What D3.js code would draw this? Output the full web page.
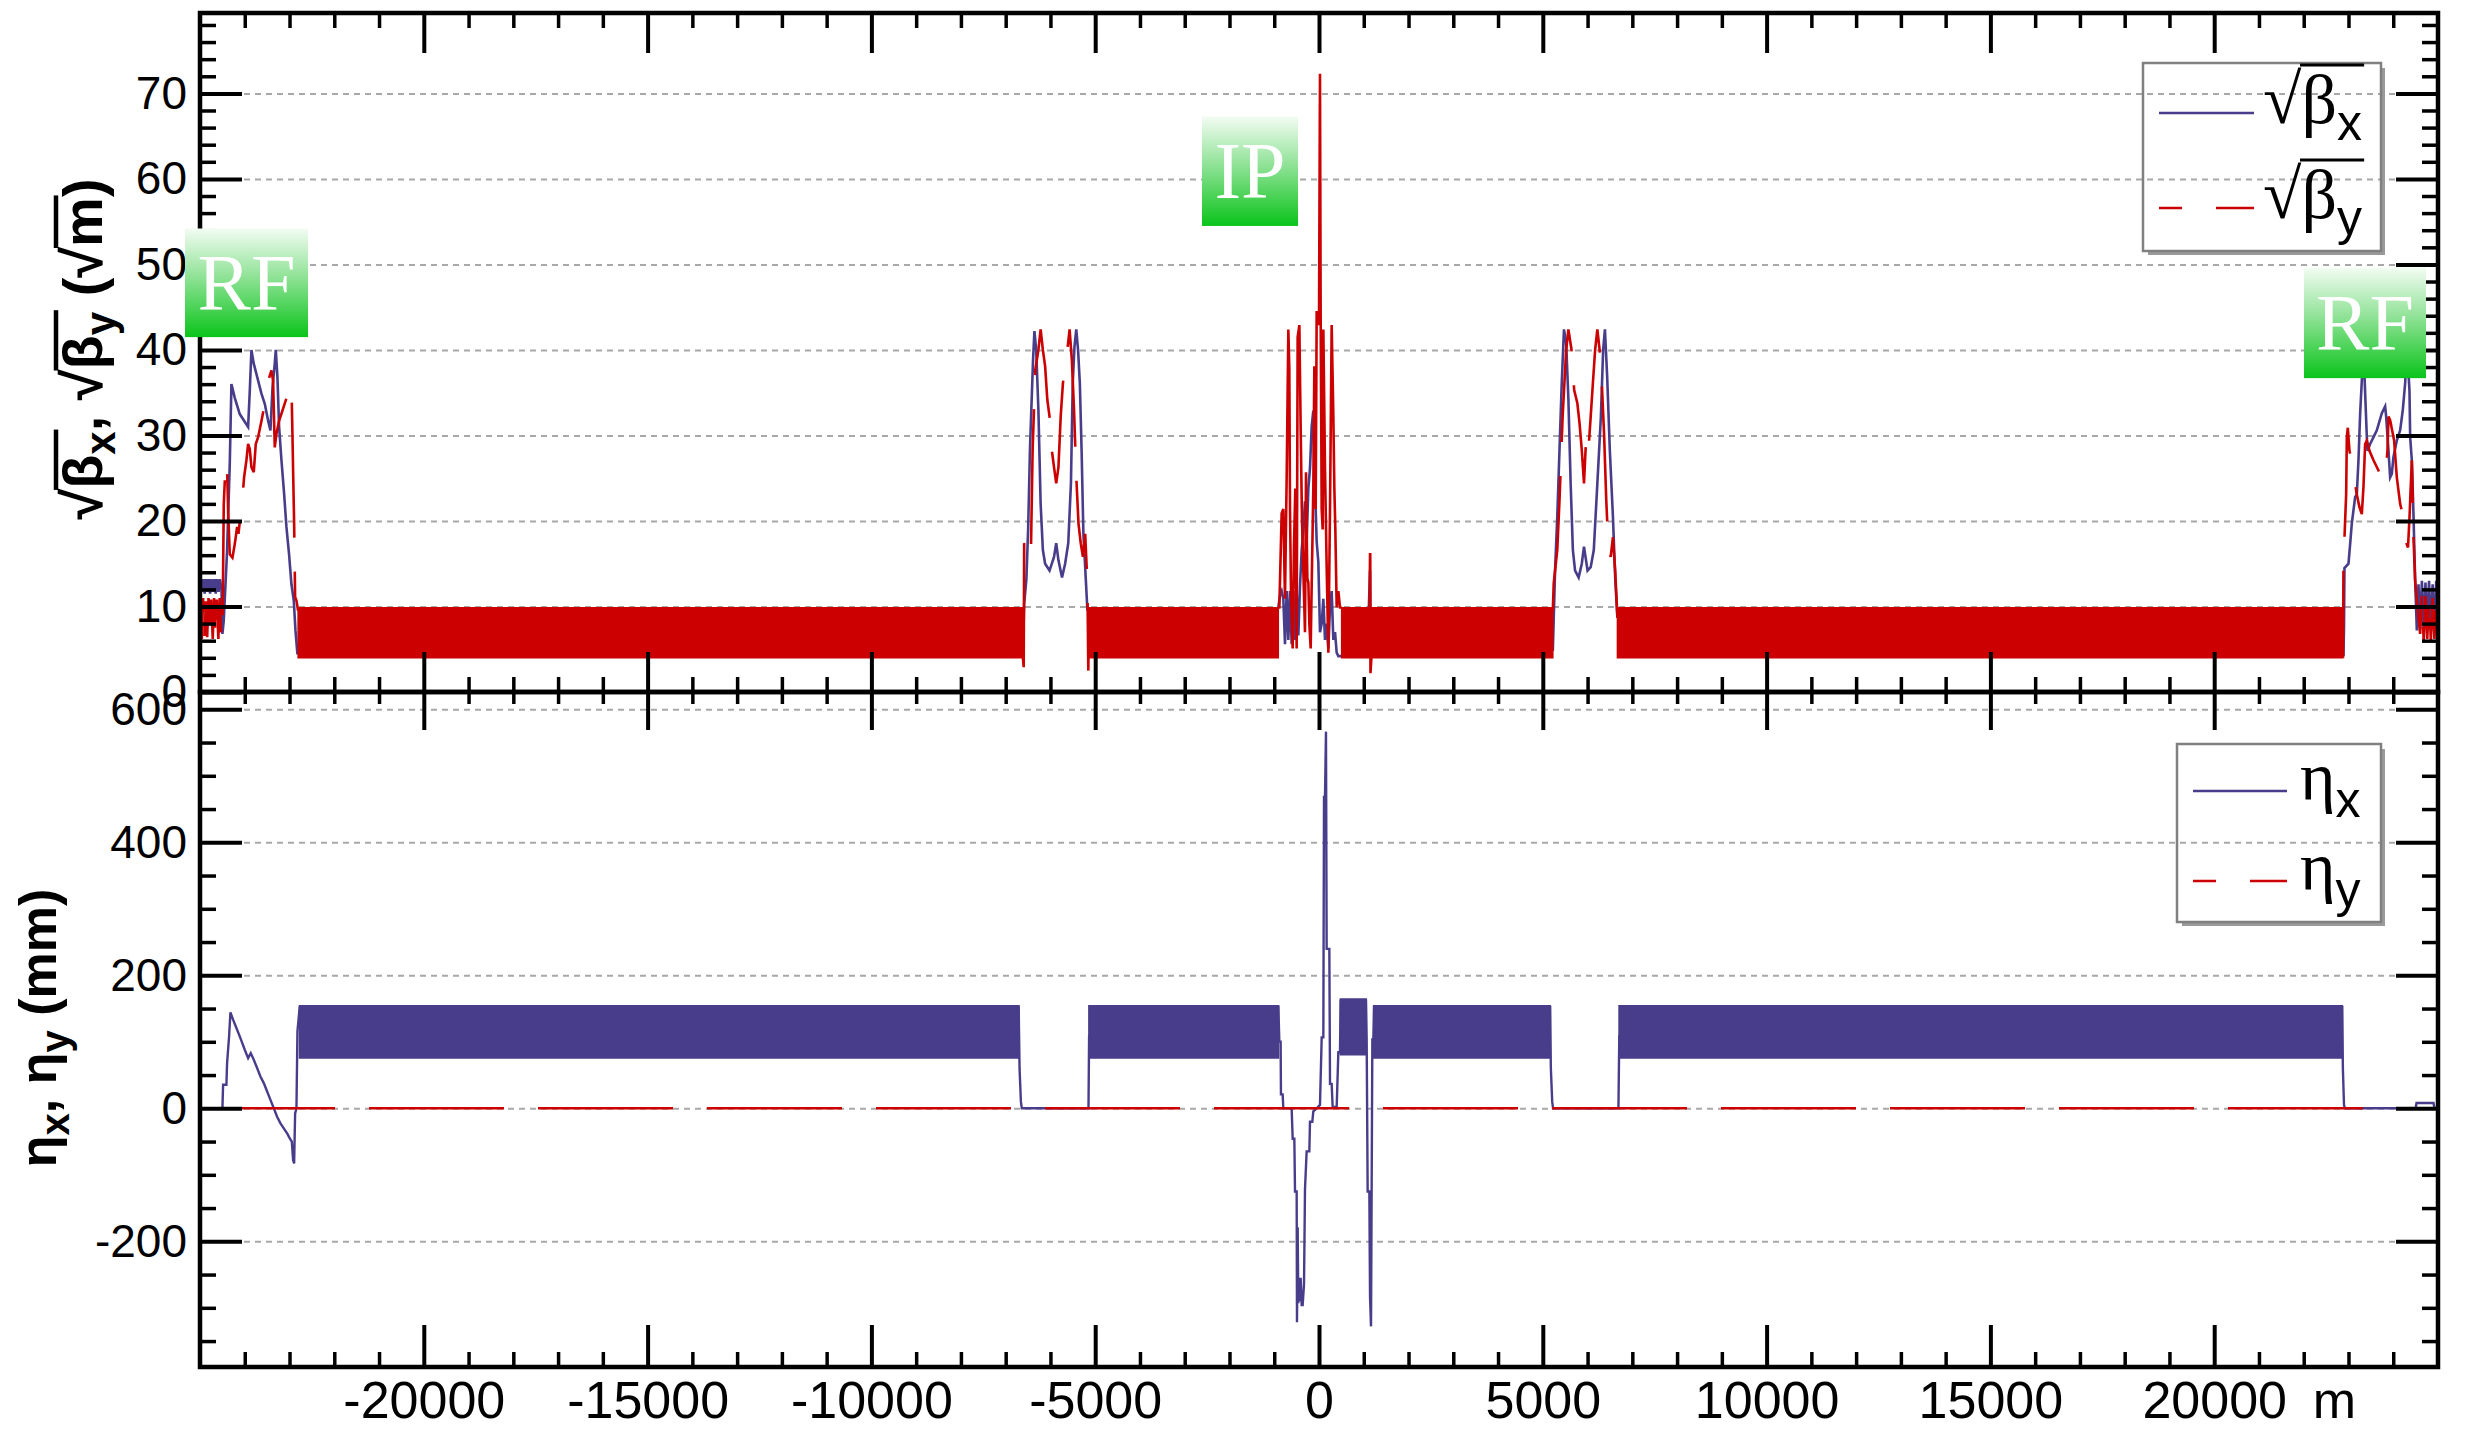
<!DOCTYPE html>
<html>
<head>
<meta charset="utf-8">
<script src="https://cdn.jsdelivr.net/npm/d3@7"></script>
<style>
  body { margin: 0; background: #fff; }
</style>
</head>
<body>
<svg id="chart" width="2465" height="1429"></svg>
<script>
// ---- data (s in metres, sqrt(beta) in sqrt(m), eta in mm) ----
// FODO arcs: dense oscillation, kept as envelope
var betaArcS0 = [-22808, -5154, 506, 6667];
var betaArcS1 = [-6617, -909, 5224, 22873];
var betaArcLo = [4.0, 4.0, 4.0, 4.0];
var betaArcHi = [9.85, 9.85, 9.85, 9.85];

var etaArcS0 = [-22771, -5136, 484, 1229, 6709];
var etaArcS1 = [-6710, -909, 1050, 5163, 22859];
var etaArcLo = [76, 76, 81, 76, 76];
var etaArcHi = [154, 154, 164, 154, 154];

// insertions: sqrt(beta_x)
var bxRfW = [[-25004,11.5],[-24980,13.2],[-24955,11.7],[-24925,13.2],[-24895,11.5],[-24865,13.2],[-24835,11.7],[-24805,13.2],
  [-24775,11.5],[-24745,13.2],[-24710,11.7],[-24680,13.2],[-24650,11.5],[-24620,13.2],[-24585,11.7],[-24555,13.2],[-24520,12.0],
  [-24499,6.8],[-24470,8.3],[-24395,16.5],[-24335,26.7],[-24298,36.0],[-24223,34.4],[-24112,32.5],[-23925,31.0],[-23888,35.2],
  [-23851,40.0],[-23799,38.4],[-23627,34.9],[-23553,33.7],[-23477,31.7],[-23426,30.6],[-23380,35.6],[-23330,38.4],[-23307,40.0],
  [-23270,36.8],[-23233,31.0],[-23180,27.1],[-23121,23.2],[-23069,19.3],[-23010,16.1],[-22957,12.6],[-22905,10.7],[-22867,7.2],[-22823,4.4]];
var bxStrW = [[-6617,4.1],[-6587,10.3],[-6537,13.2],[-6497,19.3],[-6458,28.3],[-6388,38.9],[-6358,42.2],[-6318,40.0],[-6269,33.0],
  [-6219,22.0],[-6169,16.6],[-6119,15.0],[-6020,14.2],[-5920,15.8],[-5871,17.4],[-5821,15.4],[-5741,13.4],[-5672,15.0],[-5602,17.4],
  [-5542,24.4],[-5502,36.1],[-5463,40.4],[-5423,42.4],[-5383,40.0],[-5343,36.1],[-5304,28.3],[-5264,18.5],[-5224,14.6],[-5174,9.5]];
var bxIR = [[-909,9.9],[-871,11.3],[-834,11.8],[-797,10.9],[-760,5.6],[-722,11.8],[-685,6.1],[-648,11.8],[-611,5.6],[-573,11.8],
  [-536,6.1],[-499,11.8],[-462,6.6],[-425,12.3],[-387,16.6],[-350,19.0],[-313,22.3],[-276,17.6],[-238,23.8],[-201,26.2],[-164,31.0],
  [-127,32.9],[-104,26.2],[-74,21.4],[-52,17.6],[-15,15.2],[22,7.0],[60,8.0],[97,10.9],[134,6.1],[171,8.0],[209,5.1],[246,9.9],
  [283,11.8],[320,6.1],[358,7.0],[395,4.6],[432,4.2],[506,4.2]];
var bxSpike = [[1102,8.0],[1140,14.2],[1150,4.2],[1177,4.2]];
var bxStrE = [[5224,4.8],[5274,14.2],[5323,20.5],[5373,28.3],[5423,36.1],[5473,42.4],[5522,40.8],[5572,34.2],[5622,24.4],[5672,16.6],
  [5721,14.2],[5801,13.4],[5871,15.0],[5920,17.0],[6000,14.2],[6070,14.6],[6139,16.6],[6219,24.4],[6298,32.2],[6348,40.0],[6388,42.4],
  [6438,36.9],[6497,28.3],[6567,20.5],[6617,13.4],[6667,8.7]];
var bxRfE = [[22888,4.2],[22900,7.6],[22910,14.5],[23000,15.0],[23037,17.3],[23074,19.7],[23149,22.8],[23186,23.1],[23223,27.1],
  [23261,32.6],[23298,36.4],[23335,40.5],[23372,35.0],[23410,29.8],[23425,28.2],[23484,29.0],[23559,29.8],[23633,30.6],[23745,32.6],
  [23819,33.4],[23842,32.2],[23894,28.2],[23931,25.1],[23968,25.5],[24005,27.5],[24080,29.4],[24154,30.6],[24214,33.0],[24266,36.1],
  [24303,40.2],[24333,38.0],[24363,35.2],[24378,29.8],[24415,27.1],[24452,20.8],[24490,13.0],[24527,7.2],[24564,12.6],[24600,7.4],
  [24640,13.0],[24680,7.2],[24720,12.8],[24760,7.4],[24800,13.0],[24840,7.2],[24880,12.6],[24920,7.4],[24960,13.0],[25000,7.4]];

// insertions: sqrt(beta_y)
var byRfW = [[-25004,6.0],[-24985,10.8],[-24960,6.2],[-24930,11.0],[-24900,6.0],[-24870,10.6],[-24840,6.4],[-24810,11.0],[-24780,6.0],
  [-24750,10.8],[-24715,6.2],[-24685,11.0],[-24655,6.0],[-24625,10.8],[-24590,6.2],[-24560,11.0],[-24525,6.4],[-24499,6.0],
  [-24469,22.0],[-24425,27.1],[-24395,26.3],[-24372,21.2],[-24335,16.1],[-24275,15.7],[-24223,17.3],[-24171,19.3],[-24141,18.5],
  [-24052,22.7],[-24015,25.1],[-23963,27.1],[-23925,29.0],[-23888,28.4],[-23851,26.3],[-23799,25.7],[-23754,29.0],[-23702,29.8],
  [-23627,31.7],[-23553,33.7],[-23477,36.4],[-23404,37.6],[-23367,36.4],[-23330,28.6],[-23292,30.2],[-23233,31.7],[-23158,32.9],
  [-23084,34.1],[-23010,35.2],[-22957,36.0],[-22935,30.2],[-22920,25.9],[-22897,19.7],[-22875,11.1],[-22845,10.7],[-22808,9.5]];
var byStrW = [[-6617,4.1],[-6597,2.9],[-6587,17.4],[-6537,16.5],[-6497,15.4],[-6438,15.8],[-6398,28.3],[-6338,37.7],[-6269,40.0],
  [-6219,42.4],[-6169,40.0],[-6119,38.1],[-6070,34.2],[-6020,32.2],[-5970,28.3],[-5920,26.3],[-5871,24.4],[-5821,26.3],[-5771,32.2],
  [-5721,36.1],[-5672,38.5],[-5622,40.0],[-5572,42.4],[-5522,38.9],[-5473,33.0],[-5423,25.2],[-5373,19.7],[-5323,17.4],[-5274,15.8],
  [-5224,18.5],[-5174,12.7],[-5154,2.5],[-5140,9.5]];
var byIR = [[-909,9.9],[-886,9.9],[-834,20.9],[-797,21.4],[-760,10.9],[-722,25.2],[-685,42.4],[-663,37.7],[-648,21.4],[-626,11.8],
  [-588,5.1],[-559,17.1],[-529,23.8],[-499,5.1],[-477,41.5],[-439,42.9],[-410,31.0],[-380,20.0],[-350,14.2],[-313,7.0],[-290,25.7],
  [-261,13.3],[-238,12.8],[-216,8.0],[-186,5.1],[-164,12.3],[-127,23.8],[-104,38.1],[-74,21.4],[-52,44.4],[-15,44.4],[0,42.9],
  [22,72.3],[37,44.4],[60,21.4],[82,19.0],[97,42.4],[134,26.2],[171,14.7],[209,4.6],[246,21.4],[283,42.9],[320,32.4],[343,23.8],
  [365,19.0],[395,9.9],[432,11.8],[469,9.9],[506,9.9]];
var bySpike = [[1102,9.9],[1130,9.9],[1140,16.1],[1145,16.1],[1150,2.2],[1177,4.6]];
var byStrE = [[5224,9.5],[5244,12.7],[5323,16.6],[5373,22.4],[5443,32.2],[5522,40.0],[5572,42.4],[5642,40.0],[5701,35.3],[5771,33.8],
  [5821,31.4],[5871,28.3],[5920,24.4],[5970,29.9],[6020,28.3],[6070,32.2],[6119,36.1],[6169,40.0],[6219,42.4],[6269,40.0],[6318,36.1],
  [6368,30.3],[6418,22.4],[6468,16.6],[6517,15.8],[6567,18.1],[6617,14.2],[6667,8.7]];
var byRfE = [[22873,9.6],[22880,4.0],[22888,15.0],[22948,23.1],[22963,29.8],[22985,30.9],[23022,28.2],[23074,27.1],[23126,25.1],
  [23186,23.1],[23246,21.6],[23298,20.8],[23335,24.0],[23372,29.0],[23410,29.4],[23469,28.2],[23559,27.1],[23670,25.9],[23767,24.7],
  [23819,25.1],[23871,28.2],[23894,32.2],[23931,31.8],[24020,29.4],[24080,25.1],[24154,22.0],[24192,21.2],[24250,19.0],[24303,17.3],
  [24330,16.9],[24363,20.4],[24415,27.1],[24430,24.0],[24452,18.1],[24490,13.0],[24527,10.6],[24601,6.8],[24640,11.4],[24680,6.0],
  [24720,11.2],[24760,6.2],[24800,11.4],[24840,6.0],[24880,11.0],[24920,6.2],[24960,11.4],[25000,6.0]];

// insertions: eta_x
var etaRfW = [[-25000,0],[-24499,0],[-24484,35.4],[-24410,35.4],[-24395,68.0],[-24350,108.2],[-24320,144.3],[-24261,133.3],
  [-24171,118.2],[-24097,105.6],[-24000,88.0],[-23925,75.5],[-23866,83.0],[-23799,73.0],[-23724,60.5],[-23650,47.9],[-23575,37.9],
  [-23500,25.3],[-23426,12.7],[-23351,0],[-23277,-12.6],[-23202,-22.6],[-23128,-30.2],[-23053,-37.7],[-22994,-45.2],[-22949,-50.2],
  [-22920,-77.9],[-22897,-82.9],[-22875,-7.6],[-22845,0],[-22823,115.8],[-22771,153.4]];
var etaStrW = [[-6710,154],[-6690,60],[-6660,10],[-6640,0],[-5150,0],[-5136,110]];
var etaIR = [[-909,154],[-886,100.2],[-857,100.2],[-850,20.9],[-812,20.9],[-797,0],[-611,0],[-588,-45.7],[-551,-45.7],[-536,-125],
  [-499,-125],[-492,-321.6],[-477,-178.9],[-462,-293],[-447,-255],[-425,-290],[-410,-255],[-387,-296],[-365,-296],[-335,-264.5],
  [-313,-121.8],[-276,-64.7],[-216,-64.7],[-201,-20.3],[-149,-20.3],[-127,-4.4],[-52,0],[22,5.1],[60,106.6],[97,106.6],[112,468.1],
  [134,468.1],[156,566.4],[171,239.8],[231,239.8],[246,36.8],[283,36.8],[305,1.9],[395,1.9],[432,84.4],[469,84.4],[484,163.7]];
var etaIR2 = [[1050,163.7],[1065,103.4],[1087,-125],[1125,-125],[1140,-283.5],[1162,-327.9],[1192,103.4],[1214,103.4],[1229,154.1]];
var etaStrE = [[5163,154],[5180,60],[5210,10],[5230,0],[6690,0],[6709,110]];
var etaRfE = [[22859,154],[22875,60],[22900,5],[22920,0],[24500,0],[24520,8],[24900,8],[24920,0],[25000,0]];
// eta_y is zero everywhere
var etaY = [[-25000,0],[25000,0]];

// tick values
var sTicks = [-20000, -15000, -10000, -5000, 0, 5000, 10000, 15000, 20000];
var sMinor = d3.range(-24000, 24001, 1000).filter(function(v) { return v % 5000 !== 0; });
var bTicks = [0, 10, 20, 30, 40, 50, 60, 70];
var bMinor = d3.range(2, 79, 2).filter(function(v) { return v % 10 !== 0; });
var eTicks = [-200, 0, 200, 400, 600];
var eMinor = d3.range(-350, 601, 50).filter(function(v) { return v % 200 !== 0; });

// labels (s range and value range of each box)
var boxes = [
  {t: 'RF', s: [-25335, -22587], v: [54.2, 41.5]},
  {t: 'IP', s: [-2614, -469], v: [67.3, 54.5]},
  {t: 'RF', s: [22006, 24732], v: [49.6, 36.7]}
];

var BLUE = '#483d8b', RED = '#cc0000';
var SANS = 'Liberation Sans, Arial, sans-serif', SERIF = 'Liberation Serif, Times New Roman, serif';

var L = 200, R = 2438, T = 13, MID = 692, B = 1367;

var x = d3.scaleLinear().domain([-25000, 25000]).range([L, R]);
var yB = d3.scaleLinear().domain([0, 79.4]).range([MID, T]);
var yE = d3.scaleLinear().domain([-389, 626]).range([B, MID]);

var svg = d3.select('#chart');
svg.append('rect').attr('width', 2465).attr('height', 1429).attr('fill', '#fff');

var defs = svg.append('defs');
var grad = defs.append('linearGradient').attr('id', 'grn').attr('x1', 0).attr('y1', 0).attr('x2', 0).attr('y2', 1);
grad.append('stop').attr('offset', '0%').attr('stop-color', '#f3fcf3');
grad.append('stop').attr('offset', '45%').attr('stop-color', '#8ee295');
grad.append('stop').attr('offset', '100%').attr('stop-color', '#0ac41a');
defs.append('clipPath').attr('id', 'clipTop').append('rect').attr('x', L).attr('y', T).attr('width', R - L).attr('height', MID - T);
defs.append('clipPath').attr('id', 'clipBot').append('rect').attr('x', L).attr('y', MID).attr('width', R - L).attr('height', B - MID);

function grid(yScale, vals) {
  var g = svg.append('g').attr('transform', 'translate(' + L + ',0)')
    .call(d3.axisLeft(yScale).tickValues(vals).tickSize(-(R - L)).tickFormat(''));
  g.select('.domain').remove();
  g.selectAll('line').attr('stroke', '#a8a8a8').attr('stroke-width', 2).attr('stroke-dasharray', '6,5');
}
grid(yB, bTicks.filter(function(v) { return v > 0; }));
grid(yE, eTicks);

// ---- top panel ----
var gTop = svg.append('g').attr('clip-path', 'url(#clipTop)');
var lineB = d3.line().x(function(d) { return x(d[0]); }).y(function(d) { return yB(d[1]); });
var areaB = d3.area().x(function(d) { return x(d[0]); }).y0(function(d) { return yB(d[1]); }).y1(function(d) { return yB(d[2]); });
var bArcs = betaArcS0.map(function(s0, i) {
  return [[s0, betaArcLo[i], betaArcHi[i]], [betaArcS1[i], betaArcLo[i], betaArcHi[i]]];
});

[bxRfW, bxStrW, bxIR, bxSpike, bxStrE, bxRfE].forEach(function(d) {
  gTop.append('path').datum(d).attr('d', lineB).attr('fill', 'none').attr('stroke', BLUE).attr('stroke-width', 2.6);
});
gTop.selectAll('path.bandR').data(bArcs).join('path').attr('class', 'bandR')
  .attr('d', areaB).attr('fill', RED).attr('stroke', RED).attr('stroke-width', 1.5);
[byRfW, byStrW, byStrE, byRfE].forEach(function(d) {
  gTop.append('path').datum(d).attr('d', lineB).attr('fill', 'none').attr('stroke', RED).attr('stroke-width', 2.6)
    .attr('stroke-dasharray', '135,34');
});
[byIR, bySpike].forEach(function(d) {
  gTop.append('path').datum(d).attr('d', lineB).attr('fill', 'none').attr('stroke', RED).attr('stroke-width', 2.6);
});

// ---- bottom panel ----
var gBot = svg.append('g').attr('clip-path', 'url(#clipBot)');
var lineE = d3.line().x(function(d) { return x(d[0]); }).y(function(d) { return yE(d[1]); });
var areaE = d3.area().x(function(d) { return x(d[0]); }).y0(function(d) { return yE(d[1]); }).y1(function(d) { return yE(d[2]); });
var eArcs = etaArcS0.map(function(s0, i) {
  return [[s0, etaArcLo[i], etaArcHi[i]], [etaArcS1[i], etaArcLo[i], etaArcHi[i]]];
});
gBot.selectAll('path.bandE').data(eArcs).join('path').attr('class', 'bandE')
  .attr('d', areaE).attr('fill', BLUE).attr('stroke', BLUE).attr('stroke-width', 2);
[etaRfW, etaStrW, etaIR, etaIR2, etaStrE, etaRfE].forEach(function(d) {
  gBot.append('path').datum(d).attr('d', lineE).attr('fill', 'none').attr('stroke', BLUE).attr('stroke-width', 2.4);
});
gBot.append('path').datum(etaY).attr('d', lineE).attr('fill', 'none').attr('stroke', RED).attr('stroke-width', 2.6)
  .attr('stroke-dasharray', '135,34');

// ---- axes / frames ----
function ax(axis, tx, ty, w, size) {
  var g = svg.append('g').attr('transform', 'translate(' + tx + ',' + ty + ')').call(axis);
  g.select('.domain').remove();
  g.selectAll('.tick line').attr('stroke', '#000').attr('stroke-width', w);
  g.attr('font-family', SANS).attr('font-size', size || 46);
  g.selectAll('text').attr('fill', '#000');
  return g;
}
var fmt = function(d) { return String(d); };
var none = function() { return ''; };

// top panel
ax(d3.axisLeft(yB).tickValues(bTicks).tickSizeInner(-42).tickSizeOuter(0).tickPadding(13).tickFormat(fmt), L, 0, 4);
ax(d3.axisLeft(yB).tickValues(bMinor).tickSizeInner(-16).tickSizeOuter(0).tickFormat(none), L, 0, 3.5);
ax(d3.axisRight(yB).tickValues(bTicks).tickSizeInner(-42).tickSizeOuter(0).tickFormat(none), R, 0, 4);
ax(d3.axisRight(yB).tickValues(bMinor).tickSizeInner(-16).tickSizeOuter(0).tickFormat(none), R, 0, 3.5);
ax(d3.axisTop(x).tickValues(sTicks).tickSizeInner(-40).tickSizeOuter(0).tickFormat(none), 0, T, 4);
ax(d3.axisTop(x).tickValues(sMinor).tickSizeInner(-15).tickSizeOuter(0).tickFormat(none), 0, T, 3.5);
ax(d3.axisBottom(x).tickValues(sTicks).tickSizeInner(-40).tickSizeOuter(0).tickFormat(none), 0, MID, 4);
ax(d3.axisBottom(x).tickValues(sMinor).tickSizeInner(-15).tickSizeOuter(0).tickFormat(none), 0, MID, 3.5);

// bottom panel
ax(d3.axisLeft(yE).tickValues(eTicks).tickSizeInner(-42).tickSizeOuter(0).tickPadding(13).tickFormat(fmt), L, 0, 4);
ax(d3.axisLeft(yE).tickValues(eMinor).tickSizeInner(-16).tickSizeOuter(0).tickFormat(none), L, 0, 3.5);
ax(d3.axisRight(yE).tickValues(eTicks).tickSizeInner(-42).tickSizeOuter(0).tickFormat(none), R, 0, 4);
ax(d3.axisRight(yE).tickValues(eMinor).tickSizeInner(-16).tickSizeOuter(0).tickFormat(none), R, 0, 3.5);
ax(d3.axisTop(x).tickValues(sTicks).tickSizeInner(-38).tickSizeOuter(0).tickFormat(none), 0, MID, 4);
ax(d3.axisTop(x).tickValues(sMinor).tickSizeInner(-12).tickSizeOuter(0).tickFormat(none), 0, MID, 3.5);
ax(d3.axisBottom(x).tickValues(sTicks).tickSizeInner(-42).tickSizeOuter(0).tickPadding(14).tickFormat(fmt), 0, B, 4, 52);
ax(d3.axisBottom(x).tickValues(sMinor).tickSizeInner(-15).tickSizeOuter(0).tickFormat(none), 0, B, 3.5);

svg.append('rect').attr('x', L).attr('y', T).attr('width', R - L).attr('height', MID - T)
  .attr('fill', 'none').attr('stroke', '#000').attr('stroke-width', 4.5);
svg.append('rect').attr('x', L).attr('y', MID).attr('width', R - L).attr('height', B - MID)
  .attr('fill', 'none').attr('stroke', '#000').attr('stroke-width', 4.5);

svg.append('text').attr('x', 2356).attr('y', 1418).attr('text-anchor', 'end')
  .attr('font-family', SANS).attr('font-size', 52).text('m');

// ---- rich text with sqrt bars ----
function rich(parent, px, py, size, runs, bars, barDy, barW, anchor, family, weight) {
  var t = parent.append('text').attr('x', px).attr('y', py).attr('font-size', size)
    .attr('font-family', family).attr('font-weight', weight || 'normal').attr('text-anchor', anchor || 'start');
  var cur = 0;
  runs.forEach(function(r) {
    var off = r.dy || 0;
    var ts = t.append('tspan').attr('dy', off - cur).text(r.t);
    cur = off;
    if (r.f) ts.attr('font-family', r.f);
    if (r.s) ts.attr('font-size', r.s);
  });
  var n = t.node();
  bars.forEach(function(b) {
    var x0 = n.getStartPositionOfChar(b[0]).x, x1 = n.getEndPositionOfChar(b[1]).x;
    parent.append('line').attr('x1', x0 - size * 0.02).attr('x2', x1 + size * 0.03)
      .attr('y1', py - barDy).attr('y2', py - barDy).attr('stroke', '#000').attr('stroke-width', barW);
  });
  return t;
}

// axis titles
var t1 = svg.append('g').attr('transform', 'translate(102,349) rotate(-90)');
rich(t1, 0, 0, 56, [{t: '√'}, {t: 'β'}, {t: 'x', dy: 13, s: 42}, {t: ', '}, {t: '√'}, {t: 'β'}, {t: 'y', dy: 13, s: 42},
  {t: ' ('}, {t: '√'}, {t: 'm'}, {t: ')'}], [[1, 2], [6, 7], [11, 11]], 46, 4.5, 'middle', SANS, 'bold');
var t2 = svg.append('g').attr('transform', 'translate(56,1028) rotate(-90)');
rich(t2, 0, 0, 52, [{t: 'η'}, {t: 'x', dy: 13, s: 40}, {t: ', '}, {t: 'η'}, {t: 'y', dy: 13, s: 40}, {t: ' (mm)'}],
  [], 0, 0, 'middle', SANS, 'bold');

// ---- legends ----
function legendBox(x0, y0, w, h) {
  svg.append('path').attr('d', 'M' + (x0 + w + 2) + ',' + (y0 + 5) + 'V' + (y0 + h + 2) + 'H' + (x0 + 5))
    .attr('fill', 'none').attr('stroke', '#9a9a9a').attr('stroke-width', 4);
  svg.append('rect').attr('x', x0).attr('y', y0).attr('width', w).attr('height', h)
    .attr('fill', 'none').attr('stroke', '#808080').attr('stroke-width', 2.5);
}
legendBox(2143, 63, 238, 188);
svg.append('line').attr('x1', 2159).attr('x2', 2254).attr('y1', 113).attr('y2', 113).attr('stroke', BLUE).attr('stroke-width', 2.6);
svg.append('line').attr('x1', 2159).attr('x2', 2254).attr('y1', 208).attr('y2', 208).attr('stroke', RED).attr('stroke-width', 2.6)
  .attr('stroke-dasharray', '135,34').attr('stroke-dashoffset', 112);
rich(svg, 2263, 123, 70, [{t: '√'}, {t: 'β'}, {t: 'x', dy: 17, s: 50, f: SANS}], [[1, 2]], 58, 3, 'start', SERIF);
rich(svg, 2263, 218, 70, [{t: '√'}, {t: 'β'}, {t: 'y', dy: 17, s: 50, f: SANS}], [[1, 2]], 58, 3, 'start', SERIF);

legendBox(2177, 744, 204, 178);
svg.append('line').attr('x1', 2193).attr('x2', 2287).attr('y1', 791).attr('y2', 791).attr('stroke', BLUE).attr('stroke-width', 2.6);
svg.append('line').attr('x1', 2193).attr('x2', 2287).attr('y1', 881).attr('y2', 881).attr('stroke', RED).attr('stroke-width', 2.6)
  .attr('stroke-dasharray', '135,34').attr('stroke-dashoffset', 112);
rich(svg, 2300, 800, 68, [{t: 'η'}, {t: 'x', dy: 17, s: 50, f: SANS}], [], 0, 0, 'start', SERIF);
rich(svg, 2300, 890, 68, [{t: 'η'}, {t: 'y', dy: 17, s: 50, f: SANS}], [], 0, 0, 'start', SERIF);

// ---- RF / IP labels ----
boxes.forEach(function(b) {
  var x0 = x(b.s[0]), x1 = x(b.s[1]), y0 = yB(b.v[0]), y1 = yB(b.v[1]);
  svg.append('rect').attr('x', x0).attr('y', y0).attr('width', x1 - x0).attr('height', y1 - y0).attr('fill', 'url(#grn)');
  svg.append('text').attr('x', (x0 + x1) / 2).attr('y', (y0 + y1) / 2 + 27).attr('text-anchor', 'middle')
    .attr('font-family', SERIF).attr('font-size', 80).attr('fill', '#fff').text(b.t);
});
</script>
</body>
</html>
